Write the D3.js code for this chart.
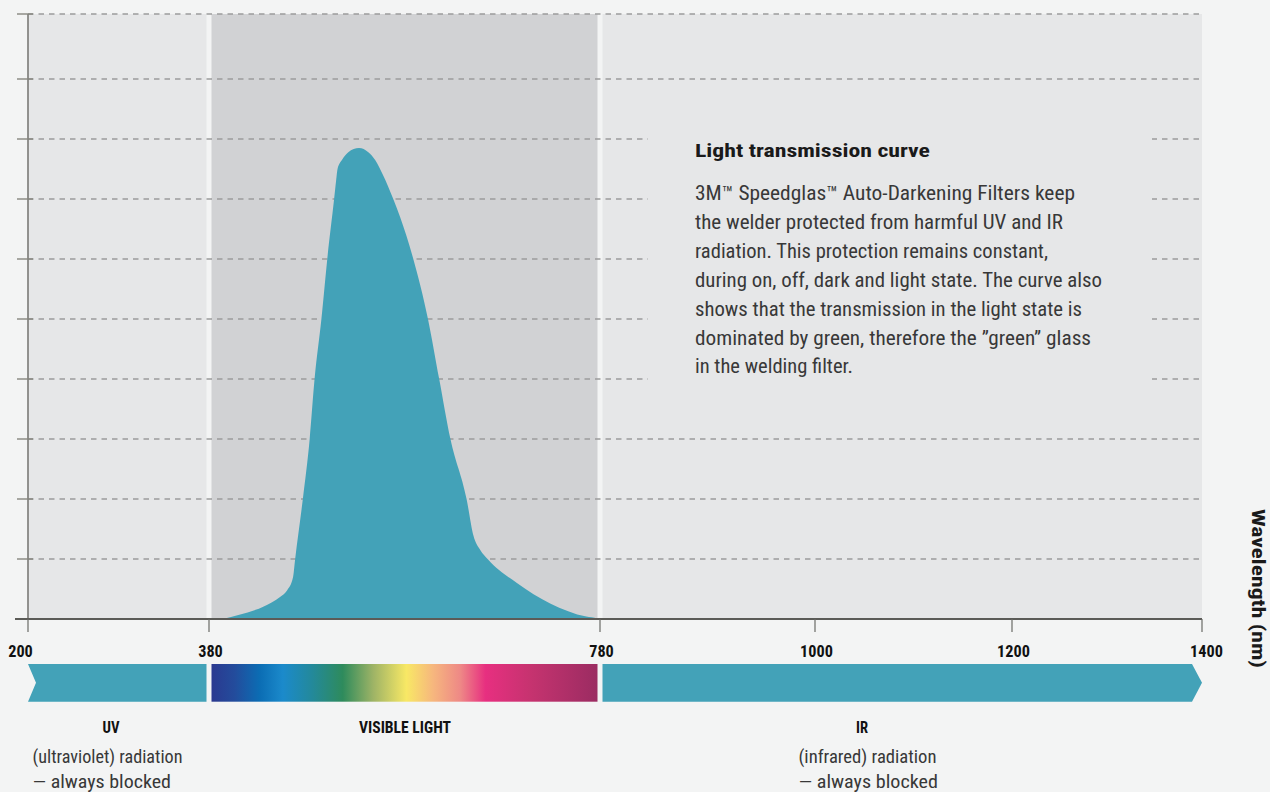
<!DOCTYPE html>
<html>
<head>
<meta charset="utf-8">
<script src="https://cdn.jsdelivr.net/npm/d3@7"></script>
<style>
  html, body { margin: 0; padding: 0; background: #f3f4f4; }
  svg { display: block; }
  text { font-family: "Liberation Sans Narrow", "Roboto Condensed", "Roboto", "Liberation Sans", sans-serif; }
</style>
</head>
<body>
<svg id="chart" width="1270" height="792"></svg>
<script>
// ---------------- DATA ----------------
const wavelengthTicks = [200, 380, 780, 1000, 1200, 1400];
const transmissionGrid = [0, 10, 20, 30, 40, 50, 60, 70, 80, 90, 100];

const regionNames = ["UV", "VISIBLE LIGHT", "IR"];
const regionStart = [200, 380, 780];
const regionEnd = [380, 780, 1400];

// transmission curve (light state), wavelength nm -> relative transmission %
const curveWavelength = [394, 411, 436, 453, 460, 466, 468, 476, 483, 488, 495, 501, 508, 510, 511.5, 516, 522.5, 533.5, 543, 550, 558, 568.5, 575.5, 589, 604, 615.5, 627, 643.5, 650.5, 657.5, 665.5, 695, 729, 766, 777, 779];
const curveTransmission = [0, 0.7, 2.1, 3.7, 4.8, 7.0, 9.8, 20, 30, 40, 50, 60, 70, 73, 75, 76.5, 77.8, 78.5, 77.8, 76.5, 74, 70, 67, 60, 50, 40, 30, 20, 13.9, 11.5, 9.9, 6, 2.6, 0.4, 0.1, 0];

const spectrumOffsets = [0, 0.06, 0.125, 0.185, 0.26, 0.34, 0.42, 0.505, 0.575, 0.645, 0.71, 0.83, 1];
const spectrumColors = ["#2b3990", "#234c9c", "#0b6db4", "#1b8acb", "#23899b", "#2e8b5c", "#9fb466", "#f8e865", "#f6b67e", "#ee8886", "#e72f80", "#c5336f", "#9b2c62"];

const titleText = "Light transmission curve";
const bodyLines = [
  "3M\u2122 Speedglas\u2122 Auto-Darkening Filters keep",
  "the welder protected from harmful UV and IR",
  "radiation. This protection remains constant,",
  "during on, off, dark and light state. The curve also",
  "shows that the transmission in the light state is",
  "dominated by green, therefore the \u201dgreen\u201d glass",
  "in the welding filter."
];
const uvLines = ["(ultraviolet) radiation", "\u2014 always blocked"];
const irLines = ["(infrared) radiation", "\u2014 always blocked"];
const axisTitle = "Wavelength (nm)";

// ---------------- LAYOUT ----------------
const svg = d3.select("#chart");
const x = d3.scaleLinear().domain(wavelengthTicks).range([28, 209, 600, 815, 1012, 1202]);
const y = d3.scaleLinear().domain([0, 90, 100]).range([619, 79, 14]);
const gap = 2.5;
const teal = "#43a2b8";

// gradient
const defs = svg.append("defs");
const grad = defs.append("linearGradient").attr("id", "spectrum")
  .attr("x1", 0).attr("x2", 1).attr("y1", 0).attr("y2", 0);
spectrumOffsets.forEach((o, i) => grad.append("stop").attr("offset", o).attr("stop-color", spectrumColors[i]));

// region backgrounds
const bgFill = ["#e6e7e8", "#d1d2d4", "#e6e7e8"];
regionNames.forEach((n, i) => {
  const x0 = x(regionStart[i]) + (i === 0 ? 0 : gap);
  const x1 = x(regionEnd[i]) - (i === 2 ? 0 : gap);
  svg.append("rect").attr("x", x0).attr("y", y(100)).attr("width", x1 - x0)
    .attr("height", y(0) - y(100)).attr("fill", bgFill[i]);
});

// gridlines
svg.append("g").selectAll("line").data(transmissionGrid.filter(d => d > 0)).join("line")
  .attr("x1", x(200)).attr("x2", x(1400))
  .attr("y1", d => y(d)).attr("y2", d => y(d))
  .attr("stroke", "#9c9c9c").attr("stroke-width", 1.3)
  .attr("stroke-dasharray", "5.5,5");

// text box cover
svg.append("rect").attr("x", 648).attr("y", 95).attr("width", 504).attr("height", 315).attr("fill", "#e6e7e8");

// curve area
const area = d3.area()
  .x((d, i) => x(curveWavelength[i]))
  .y0(y(0))
  .y1((d, i) => y(curveTransmission[i]))
  .curve(d3.curveMonotoneX);
svg.append("path").datum(curveWavelength).attr("d", area).attr("fill", teal);

// y axis line and ticks
svg.append("line").attr("x1", 28).attr("x2", 28).attr("y1", y(100)).attr("y2", y(0))
  .attr("stroke", "#7a7a76").attr("stroke-width", 1.6);
svg.append("g").selectAll("line").data(transmissionGrid.filter(d => d > 0)).join("line")
  .attr("x1", 17).attr("x2", 33)
  .attr("y1", d => y(d)).attr("y2", d => y(d))
  .attr("stroke", "#86867f").attr("stroke-width", 1.4);

// x axis
svg.append("line").attr("x1", 15).attr("x2", x(1400)).attr("y1", y(0)).attr("y2", y(0))
  .attr("stroke", "#5b5b57").attr("stroke-width", 2.2);
svg.append("g").selectAll("line").data(wavelengthTicks).join("line")
  .attr("x1", d => x(d)).attr("x2", d => x(d))
  .attr("y1", y(0)).attr("y2", y(0) + 13)
  .attr("stroke", "#6a6a66").attr("stroke-width", 1.2);
svg.append("g").selectAll("text").data(wavelengthTicks).join("text")
  .attr("x", (d, i) => x(d) + (i === 0 ? -7.5 : i === 5 ? 4.5 : 1.5))
  .attr("y", 656.5)
  .attr("text-anchor", "middle")
  .attr("font-size", 16).attr("font-weight", "bold").attr("fill", "#111")
  .attr("textLength", d => String(d).length * 8.2).attr("lengthAdjust", "spacingAndGlyphs")
  .text(d => d);

// spectrum band
const bandTop = 664, bandBot = 701.7, bandMid = (bandTop + bandBot) / 2;
const uv0 = x(200), uv1 = x(380) - gap;
svg.append("path")
  .attr("d", `M${uv0},${bandTop}L${uv1},${bandTop}L${uv1},${bandBot}L${uv0},${bandBot}L${uv0 + 8},${bandMid}Z`)
  .attr("fill", teal);
svg.append("rect").attr("x", x(380) + gap).attr("y", bandTop)
  .attr("width", x(780) - x(380) - 2 * gap).attr("height", bandBot - bandTop)
  .attr("fill", "url(#spectrum)");
const ir0 = x(780) + gap, ir1 = x(1400);
svg.append("path")
  .attr("d", `M${ir0},${bandTop}L${ir1 - 10},${bandTop}L${ir1},${bandMid}L${ir1 - 10},${bandBot}L${ir0},${bandBot}Z`)
  .attr("fill", teal);

// region labels
function bold(txt, cx, w) {
  svg.append("text").attr("x", cx).attr("y", 733).attr("text-anchor", "middle")
    .attr("font-size", 16).attr("font-weight", "bold").attr("fill", "#111")
    .attr("textLength", w).attr("lengthAdjust", "spacingAndGlyphs").text(txt);
}
bold(regionNames[0], 111, 17);
bold(regionNames[1], 405, 92);
bold(regionNames[2], 862, 12);

function desc(lines, x0, widths) {
  lines.forEach((l, i) => {
    svg.append("text").attr("x", x0).attr("y", 763 + i * 24.5)
      .attr("font-size", 18.5).attr("fill", "#383838")
      .attr("textLength", widths[i]).attr("lengthAdjust", "spacingAndGlyphs").text(l);
  });
}
desc(uvLines, 32.5, [150, 138.5]);
desc(irLines, 798.5, [138, 139.5]);

// text block
svg.append("text").attr("x", 695).attr("y", 157)
  .attr("font-size", 19).attr("font-weight", "bold").attr("fill", "#1a1a1a")
  .attr("textLength", 235).attr("lengthAdjust", "spacingAndGlyphs").text(titleText);
const bodyWidths = [380, 368, 353, 407, 387, 396, 158];
bodyLines.forEach((l, i) => {
  svg.append("text").attr("x", 695).attr("y", 200 + i * 28.9)
    .attr("font-size", 19.5).attr("fill", "#383838")
    .attr("textLength", bodyWidths[i]).attr("lengthAdjust", "spacingAndGlyphs").text(l);
});

// axis title
svg.append("text").attr("transform", "translate(1252,588.5) rotate(90)")
  .attr("text-anchor", "middle").attr("font-size", 19).attr("font-weight", "bold").attr("fill", "#1a1a1a")
  .attr("textLength", 159).attr("lengthAdjust", "spacingAndGlyphs").text(axisTitle);
</script>
</body>
</html>
